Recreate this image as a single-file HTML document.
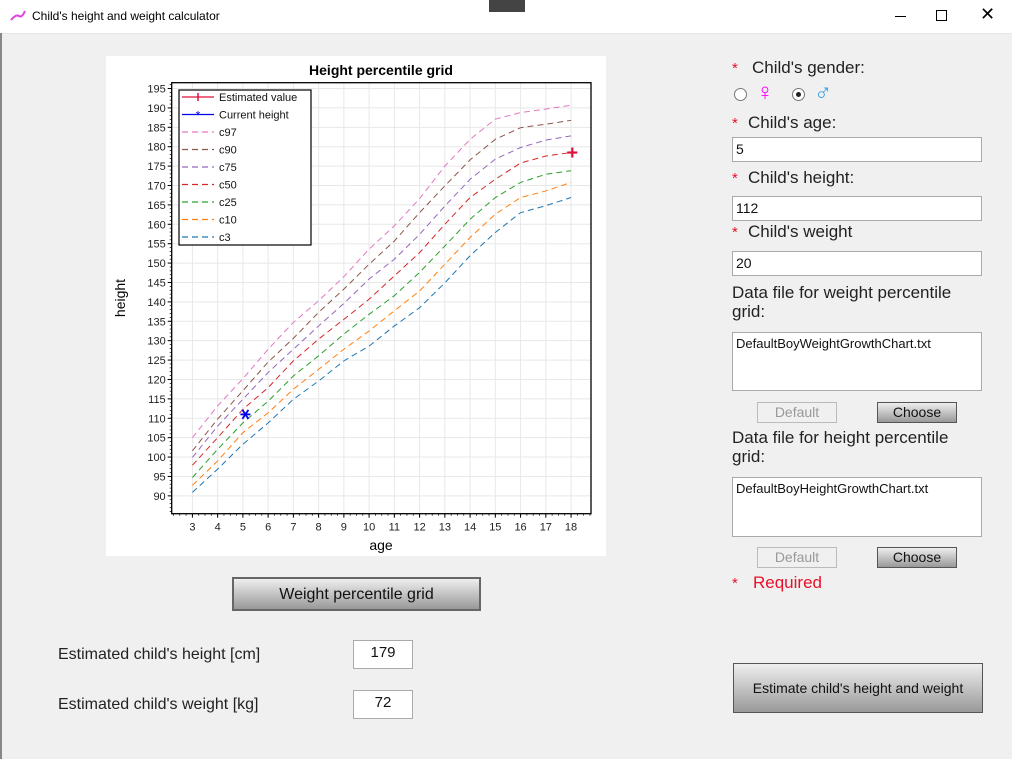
<!DOCTYPE html>
<html><head><meta charset="utf-8">
<style>
body{margin:0;width:1012px;height:759px;background:#f0f0f0;position:relative;overflow:hidden;font-family:"Liberation Sans","DejaVu Sans",sans-serif;color:#222}
.a{position:absolute;white-space:nowrap}
.lbl{font-size:17px}
.req{color:#e8102a;font-size:15px}
.inp{position:absolute;background:#fff;border:1px solid #aaa;box-sizing:border-box;font-size:14px;padding:3px 3px;color:#111}
.btn{position:absolute;box-sizing:border-box;border:1px solid #555;background:linear-gradient(#eee,#999);font-size:15px;text-align:center;color:#111}
.dbtn{position:absolute;box-sizing:border-box;border:1px solid #bbb;background:#f0f0f0;color:#999;font-size:14px;text-align:center}
</style></head><body>
<div class="a" style="left:0;top:0;width:1012px;height:33px;background:#fff;border-bottom:1px solid #e5e5e5"></div>
<div class="a" style="left:0;top:33px;width:2px;height:726px;background:#888"></div>
<svg class="a" style="left:10px;top:10px" width="16" height="12"><path d="M1 10 Q6 4 9 6 T15 1" stroke="#e040e0" stroke-width="2" fill="none"/></svg>
<div class="a" style="left:32px;top:9px;font-size:12px;color:#000">Child's height and weight calculator</div>
<div class="a" style="left:489px;top:0;width:36px;height:12px;background:#444"></div>
<div class="a" style="left:895px;top:16px;width:11px;height:1px;background:#000"></div>
<div class="a" style="left:936px;top:10px;width:9px;height:9px;border:1px solid #000"></div>
<div class="a" style="left:980px;top:4px;font-size:18px;color:#000">✕</div>

<svg class="a" id="chart" style="left:106px;top:56px" width="500" height="500"></svg>

<div class="btn" style="left:232px;top:577px;width:249px;height:34px;line-height:32px;font-size:16px;border:2px solid #666">Weight percentile grid</div>
<div class="a lbl" style="left:58px;top:646px;font-size:16px">Estimated child's height [cm]</div>
<div class="inp" style="left:353px;top:640px;width:60px;height:29px;text-align:center;font-size:15px">179</div>
<div class="a lbl" style="left:58px;top:696px;font-size:16px">Estimated child's weight [kg]</div>
<div class="inp" style="left:353px;top:690px;width:60px;height:29px;text-align:center;font-size:15px">72</div>

<div class="a req" style="left:732px;top:60px">*</div>
<div class="a lbl" style="left:752px;top:58px">Child's gender:</div>
<div class="a" style="left:734px;top:88px;width:11px;height:11px;border:1px solid #777;border-radius:50%;background:#fff"></div>
<div class="a" style="left:756px;top:79px;color:#f0f;font-size:24px;font-weight:bold">♀</div>
<div class="a" style="left:792px;top:88px;width:11px;height:11px;border:1px solid #777;border-radius:50%;background:#fff"><div style="position:absolute;left:3px;top:3px;width:5px;height:5px;border-radius:50%;background:#222"></div></div>
<div class="a" style="left:814px;top:79px;color:#3aa0e0;font-size:24px;font-weight:bold">♂</div>
<div class="a req" style="left:732px;top:115px">*</div>
<div class="a lbl" style="left:748px;top:113px">Child's age:</div>
<div class="inp" style="left:732px;top:137px;width:250px;height:25px">5</div>
<div class="a req" style="left:732px;top:170px">*</div>
<div class="a lbl" style="left:748px;top:168px">Child's height:</div>
<div class="inp" style="left:732px;top:196px;width:250px;height:25px">112</div>
<div class="a req" style="left:732px;top:224px">*</div>
<div class="a lbl" style="left:748px;top:222px">Child's weight</div>
<div class="inp" style="left:732px;top:251px;width:250px;height:25px">20</div>
<div class="a lbl" style="left:732px;top:283px;line-height:19px">Data file for weight percentile<br>grid:</div>
<div class="inp" style="left:732px;top:332px;width:250px;height:59px;font-size:13px">DefaultBoyWeightGrowthChart.txt</div>
<div class="dbtn" style="left:757px;top:402px;width:80px;height:21px;line-height:19px">Default</div>
<div class="btn" style="left:877px;top:402px;width:80px;height:21px;line-height:19px;font-size:14px">Choose</div>
<div class="a lbl" style="left:732px;top:428px;line-height:19px">Data file for height percentile<br>grid:</div>
<div class="inp" style="left:732px;top:477px;width:250px;height:60px;font-size:13px">DefaultBoyHeightGrowthChart.txt</div>
<div class="dbtn" style="left:757px;top:547px;width:80px;height:21px;line-height:19px">Default</div>
<div class="btn" style="left:877px;top:547px;width:80px;height:21px;line-height:19px;font-size:14px">Choose</div>
<div class="a req" style="left:732px;top:575px">*</div>
<div class="a" style="left:753px;top:573px;color:#e8102a;font-size:17px">Required</div>
<div class="btn" style="left:733px;top:663px;width:250px;height:50px;line-height:48px;font-size:14px">Estimate child's height and weight</div>

<script>
const ages=[3,4,5,6,7,8,9,10,11,12,13,14,15,16,17,18];
const seriesNames=["c97","c90","c75","c50","c25","c10","c3"];
const seriesColors=["#e377c2","#8c564b","#9467bd","#d62728","#2ca02c","#ff7f0e","#1f77b4"];
const c97=[105,113.2,120.2,127.8,134.7,140.3,146.5,153.6,159.6,166.6,175,181.9,187.1,188.8,189.7,190.7];
const c90=[101.6,109.8,117.1,124.5,130.6,137.3,143.3,149.7,155.7,163,169.9,176.6,181.9,184.9,185.8,186.8];
const c75=[99.9,108,114.9,121.8,127.8,133.8,139.6,145.9,151,157.4,164.7,171.6,176.8,179.8,181.7,182.8];
const c50=[97.9,105,112.3,117.9,124.8,130.4,135.5,140.7,146.7,152.7,160,166.9,171.6,175.8,177.6,178.5];
const c25=[94.7,102,108.8,114.4,120.9,126.1,131.7,136.8,141.6,147.6,154.4,161.3,166.9,170.8,172.9,173.8];
const c10=[92.7,99,106.3,111.4,117.5,122.6,127.8,132.5,137.7,142.8,149.7,156.6,162.6,166.9,168.6,170.8];
const c3=[90.9,96.9,103.3,108.8,114.9,119.6,124.8,128.6,133.8,138.5,144.9,151.9,157.9,163,164.8,166.9];
const currentPoint=[5.1,111];
const estimatedPoint=[18.05,178.5];
const yTicks=[90,95,100,105,110,115,120,125,130,135,140,145,150,155,160,165,170,175,180,185,190,195];
const xTicks=[3,4,5,6,7,8,9,10,11,12,13,14,15,16,17,18];

const NS="http://www.w3.org/2000/svg";
const svg=document.getElementById('chart');
const L=65.7,R=485,T=26.7,B=457.7;
const X0=2.18,X1=18.79,Y0=85.4,Y1=196.5;
const sx=v=>L+(v-X0)/(X1-X0)*(R-L);
const sy=v=>B-(v-Y0)/(Y1-Y0)*(B-T);
function mk(tag,attrs,parent){const e=document.createElementNS(NS,tag);for(const k in attrs)e.setAttribute(k,attrs[k]);(parent||svg).appendChild(e);return e;}
const bg=mk('rect',{x:0,y:0,width:500,height:500,fill:'#fff'});


const gridG=mk('g',{stroke:'#e8e8e8','stroke-width':1});


yTicks.forEach(v=>mk('line',{x1:L,x2:R,y1:sy(v),y2:sy(v)},gridG));
xTicks.forEach(v=>mk('line',{x1:sx(v),x2:sx(v),y1:T,y2:B},gridG));
const data=[c97,c90,c75,c50,c25,c10,c3];
data.forEach((s,i)=>{
  const p=mk('polyline',{points:s.map((v,j)=>sx(ages[j])+','+sy(v)).join(' '),fill:'none',stroke:seriesColors[i],'stroke-width':1,'stroke-dasharray':'6,4'});
  
  
});
const cx=sx(currentPoint[0]),cy=sy(currentPoint[1]);
const cur=mk('g',{stroke:'#0000ee','stroke-width':1.8});


mk('line',{x1:cx-5,x2:cx+5,y1:cy,y2:cy},cur);
mk('line',{x1:cx-3,x2:cx+3,y1:cy-4.5,y2:cy+4.5},cur);
mk('line',{x1:cx+3,x2:cx-3,y1:cy-4.5,y2:cy+4.5},cur);
const ex=sx(estimatedPoint[0]),ey=sy(estimatedPoint[1]);
const est=mk('g',{stroke:'#e0103a','stroke-width':2.2});


mk('line',{x1:ex-5,x2:ex+5,y1:ey,y2:ey},est);
mk('line',{x1:ex,x2:ex,y1:ey-5,y2:ey+5},est);
const fr=mk('rect',{x:L,y:T,width:R-L,height:B-T,fill:'none',stroke:'#000','stroke-width':1.3});


const yax=mk('g',{'font-size':'11','font-family':'Liberation Sans, sans-serif','fill':'#222'});


yTicks.forEach(v=>{
  mk('line',{x1:L-4,x2:L,y1:sy(v),y2:sy(v),stroke:'#000'},yax);
  const t=mk('text',{x:L-6,y:sy(v)+4,'text-anchor':'end'},yax);t.textContent=v;
});
for(let v=86;v<=196;v++){mk('line',{x1:L-2,x2:L,y1:sy(v),y2:sy(v),stroke:'#000','stroke-width':0.7},yax);}
const xax=mk('g',{'font-size':'11','font-family':'Liberation Sans, sans-serif','fill':'#222'});


xTicks.forEach(v=>{
  mk('line',{x1:sx(v),x2:sx(v),y1:B,y2:B+4,stroke:'#000'},xax);
  const t=mk('text',{x:sx(v),y:B+17,'text-anchor':'middle'},xax);t.textContent=v;
});
for(let v=2.25;v<=18.8;v+=0.25){mk('line',{x1:sx(v),x2:sx(v),y1:B,y2:B+2,stroke:'#000','stroke-width':0.7},xax);}
const title=mk('text',{x:275,y:19,'text-anchor':'middle','font-size':'14','font-weight':'bold','font-family':'Liberation Sans, sans-serif'});
title.textContent='Height percentile grid';


const xt=mk('text',{x:275,y:494,'text-anchor':'middle','font-size':'14','font-family':'Liberation Sans, sans-serif'});
xt.textContent='age';


const yt=mk('text',{x:0,y:0,'text-anchor':'middle','font-size':'14','font-family':'Liberation Sans, sans-serif',transform:'translate(19,242) rotate(-90)'});
yt.textContent='height';


const lg=mk('g',{});


mk('rect',{x:73,y:34,width:132,height:155,fill:'#fff',stroke:'#000','stroke-width':1.2},lg);
const entries=[["Estimated value","#e0103a","solid"],["Current height","#0000ee","solid"]].concat(seriesNames.map((n,i)=>[n,seriesColors[i],"dash"]));
entries.forEach((e,i)=>{
  const y=41+i*17.5;
  const g=mk('g',{},lg);
  
  
  mk('line',{x1:76,x2:108,y1:y,y2:y,stroke:e[1],'stroke-width':1.2,'stroke-dasharray':e[2]=='dash'?'6,4':'none'},g);
  if(i==0){mk('line',{x1:92,x2:92,y1:y-4,y2:y+4,stroke:e[1],'stroke-width':1.5},g);}
  if(i==1){const t=mk('text',{x:92,y:y+5,'text-anchor':'middle','font-size':'12',fill:e[1]},g);t.textContent='*';}
  const t=mk('text',{x:113,y:y+4,'font-size':'11','font-family':'Liberation Sans, sans-serif',fill:'#111'},g);t.textContent=e[0];
});
</script>
</body></html>
